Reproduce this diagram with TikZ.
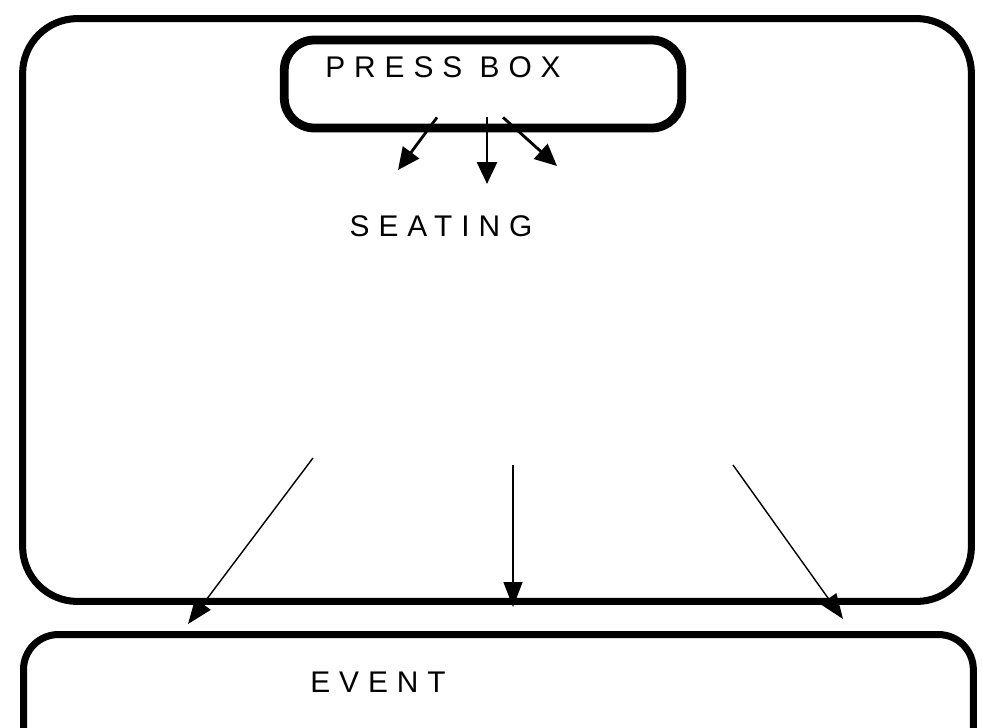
\documentclass[tikz,border=0pt]{standalone}
\usepackage{fontspec}
\usepackage{tikz}
\usetikzlibrary{arrows.meta,calc,positioning}
\newfontfamily\sketchfont[LetterSpace=30]{Liberation Sans}
\definecolor{ink}{HTML}{000000}
\tikzset{
  font=\sketchfont\fontsize{17}{19}\selectfont,
  area/.style={draw=ink,line width=4pt,rounded corners=1.1cm,inner sep=0pt},
  booth/.style={draw=ink,line width=5pt,rounded corners=6mm,inner sep=0pt},
  feed/.style={-{Triangle[length=4.4mm,width=4mm]},line width=1.6pt,draw=ink},
  view/.style={-{Triangle[length=5mm,width=3.8mm]},line width=.8pt,draw=ink},
  tag/.style={text=ink,inner sep=0pt}
}
\begin{document}
\begin{tikzpicture}[x=0.02cm,y=-0.02cm]
\useasboundingbox (0,0) rectangle (982,727);
\node[area,minimum width=18.98cm,minimum height=11.66cm] (seating) at (497,310) {};
\node[booth,minimum width=7.95cm,minimum height=1.76cm] (pressbox) at (483,84) {};
\node[area,anchor=north west,rounded corners=7mm,minimum width=19.0cm,minimum height=4cm] (event) at (20,631) {};

\node[tag] (presslabel) at (443,67) {PRESS BOX};
\node[tag] (seatlabel) at (441,226) {SEATING};
\node[tag] (eventlabel) at (378,682) {EVENT};

% press box looks down on the seats
\coordinate (p1) at (398,170);
\coordinate (p2) at (487,184);
\coordinate (p3) at (557,166);
\draw[feed] ($(pressbox.south)+(-46,-15)$) -- (p1);
\draw[feed] ($(pressbox.south)+(4,-15)$) -- (p2);
\draw[feed] ($(pressbox.south)+(20,-15)$) -- (p3);

% seats look down on the event
\coordinate (e1) at (188,624);
\coordinate (e2) at (513,607);
\coordinate (e3) at (843,619);
\draw[view] ($(seating.south)+(-184,-147)$) -- (e1);
\draw[view] ($(seating.south)+(16,-140)$) -- (e2);
\draw[view] ($(seating.south)+(236,-140)$) -- (e3);
\end{tikzpicture}
\end{document}
